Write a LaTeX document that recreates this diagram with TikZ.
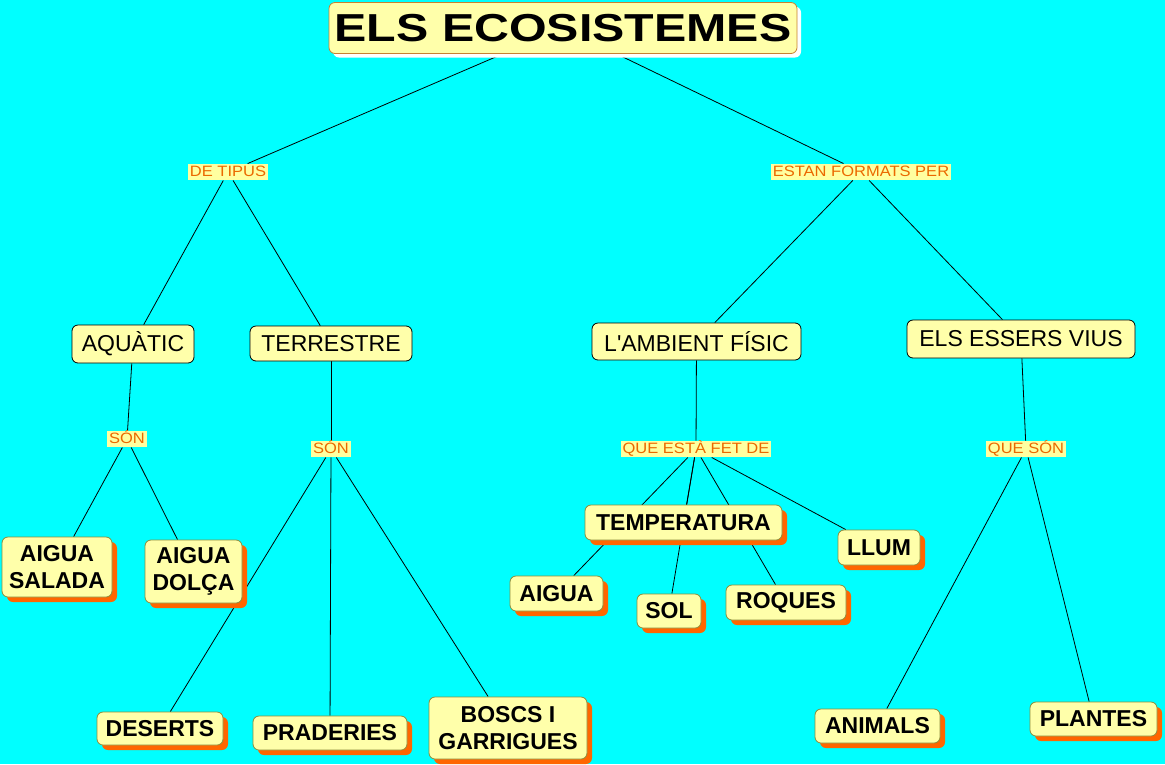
\documentclass[tikz,border=0pt]{standalone}
\usepackage{fontspec}
\usepackage{graphicx}
\setmainfont{Liberation Sans}
\usetikzlibrary{shadows,backgrounds}
\definecolor{bgc}{RGB}{0,255,255}
\definecolor{nodefill}{RGB}{255,255,170}
\definecolor{leafborder}{RGB}{140,140,60}
\definecolor{shad}{RGB}{255,102,0}
\definecolor{linktext}{RGB}{235,105,0}
\definecolor{linkfill}{RGB}{255,255,160}
\definecolor{titleborder}{RGB}{200,130,50}
\newcommand\linklab[1]{\scalebox{1.1}[1]{#1}}
\tikzset{
 titlebox/.style={draw=titleborder, fill=nodefill, rounded corners=6pt, line width=0.8pt,
   font=\fontsize{39}{44}\selectfont\bfseries, inner sep=0pt,
   drop shadow={shadow xshift=4pt, shadow yshift=-4pt, fill=white, opacity=1}},
 concept/.style={draw=black, fill=nodefill, rounded corners=6pt, line width=0.8pt,
   font=\fontsize{23}{28}\selectfont, inner sep=0pt, align=center},
 leaf/.style={draw=leafborder, fill=nodefill, rounded corners=6pt, line width=0.8pt,
   font=\fontsize{23}{27}\selectfont\bfseries, inner sep=0pt, align=center,
   drop shadow={shadow xshift=5pt, shadow yshift=-5pt, fill=shad, opacity=1}},
 link/.style={fill=linkfill, text=linktext, inner xsep=2pt, inner ysep=2pt,
   text height=11pt, text depth=1.5pt, font=\fontsize{15}{17}\selectfont},
 conn/.style={draw=black, line width=0.8pt},
}
\begin{document}
\begin{tikzpicture}[x=1pt,y=-1pt]
\useasboundingbox (0,0) rectangle (1165,764);
% title
\node[titlebox, minimum width=468pt, minimum height=51pt] (t) at (563,28) {\scalebox{1.24}[1]{ELS ECOSISTEMES}};
% linking labels
\node[link] (l1) at (228,172) {\linklab{DE TIPUS}};
\node[link] (l2) at (861,172) {\linklab{ESTAN FORMATS PER}};
\node[link] (l3) at (127,439) {\linklab{SÓN}};
\node[link] (l4) at (331,449) {\linklab{SÓN}};
\node[link] (l5) at (696,449) {\linklab{QUE ESTÀ FET DE}};
\node[link] (l6) at (1026,449) {\linklab{QUE SÓN}};
% concepts
\node[concept, minimum width=122pt, minimum height=38pt] (aq) at (133,344) {AQUÀTIC};
\node[concept, minimum width=162pt, minimum height=35pt] (te) at (331,343.5) {TERRESTRE};
\node[concept, minimum width=209pt, minimum height=37pt] (am) at (696.5,341.5) {L\textquotesingle AMBIENT FÍSIC};
\node[concept, minimum width=228pt, minimum height=38pt] (es) at (1021,339) {ELS ESSERS VIUS};
% leaves
\node[leaf, minimum width=110pt, minimum height=60pt] (sa) at (57,567) {AIGUA\\SALADA};
\node[leaf, minimum width=97pt, minimum height=63pt] (do) at (193.5,571.5) {AIGUA\\DOLÇA};
\node[leaf, minimum width=126pt, minimum height=33pt] (de) at (160,728.5) {DESERTS};
\node[leaf, minimum width=154pt, minimum height=34pt] (pr) at (330,733) {PRADERIES};
\node[leaf, minimum width=158pt, minimum height=62pt] (bo) at (508,728) {BOSCS I\\GARRIGUES};
\node[leaf, minimum width=197pt, minimum height=35pt] (tm) at (683.5,522.5) {TEMPERATURA};
\node[leaf, minimum width=82pt, minimum height=35pt] (ll) at (879,547.5) {LLUM};
\node[leaf, minimum width=93pt, minimum height=35pt] (ai) at (556.5,593.5) {AIGUA};
\node[leaf, minimum width=64pt, minimum height=34pt] (so) at (669,611) {SOL};
\node[leaf, minimum width=120pt, minimum height=35pt] (ro) at (786,602.5) {ROQUES};
\node[leaf, minimum width=125pt, minimum height=34pt] (an) at (877.5,726) {ANIMALS};
\node[leaf, minimum width=127pt, minimum height=34pt] (pl) at (1093.5,719) {PLANTES};
\begin{pgfonlayer}{background}
\fill[bgc] (0,0) rectangle (1165,764);
\draw[conn] (t) -- (l1);
\draw[conn] (t) -- (l2);
\draw[conn] (l1) -- (aq);
\draw[conn] (l1) -- (te);
\draw[conn] (l2) -- (am);
\draw[conn] (l2) -- (es);
\draw[conn] (aq) -- (l3);
\draw[conn] (l3) -- (sa);
\draw[conn] (l3) -- (do);
\draw[conn] (te) -- (l4);
\draw[conn] (l4) -- (de);
\draw[conn] (l4) -- (pr);
\draw[conn] (l4) -- (bo);
\draw[conn] (am) -- (l5);
\draw[conn] (l5) -- (tm);
\draw[conn] (l5) -- (ai);
\draw[conn] (l5) -- (so);
\draw[conn] (l5) -- (ro);
\draw[conn] (l5) -- (ll);
\draw[conn] (es) -- (l6);
\draw[conn] (l6) -- (an);
\draw[conn] (l6) -- (pl);
\end{pgfonlayer}
\end{tikzpicture}
\end{document}
